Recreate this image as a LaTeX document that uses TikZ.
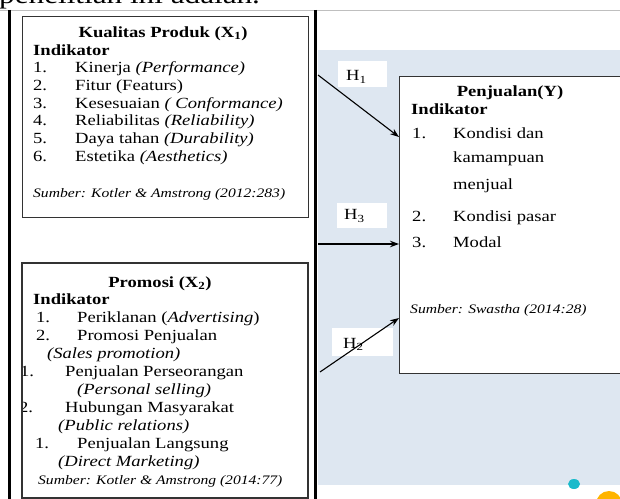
\documentclass[tikz,border=0pt]{standalone}
\usepackage{fontspec}
\setmainfont{Liberation Serif}[FakeStretch=1.2]
\usetikzlibrary{arrows.meta}
\definecolor{bgblue}{HTML}{DEE7F1}
\definecolor{dotcyan}{HTML}{19BACB}
\definecolor{dotorange}{HTML}{FFB400}
\begin{document}
\begin{tikzpicture}[x=1bp,y=-1bp,
  txt/.style={inner sep=0pt, anchor=base west, font=\fontsize{15.5bp}{18bp}\selectfont},
  src/.style={inner sep=0pt, anchor=base west, font=\fontsize{13bp}{15bp}\selectfont\itshape},
  ttl/.style={inner sep=0pt, anchor=base, font=\fontsize{15.5bp}{18bp}\selectfont\bfseries},
  hd/.style={inner sep=0pt, anchor=base west, font=\fontsize{15.5bp}{18bp}\selectfont\bfseries},
  panel/.style={draw=black!80, line width=1.2bp, fill=white, anchor=north west, inner sep=0pt},
  hlab/.style={fill=white, draw=none, anchor=north west, inner sep=0pt},
  conn/.style={-{Stealth[length=9bp,width=6.5bp]}, line width=1.1bp},
  wall/.style={line width=3bp}]
\useasboundingbox (0,0) rectangle (620,499);
% page background pieces
\fill[bgblue] (318,50) rectangle (620,485);
\draw[black!25, line width=0.8bp] (0,10) -- (620,10);
\begin{scope}
\clip (0,0) rectangle (620,10);
\node[inner sep=0pt, anchor=base west, font=\fontsize{26bp}{28bp}\selectfont] (toptext) at (-1,4) {penelitian ini adalah.};
\end{scope}
\draw[wall] (9,10) -- (9,499);
\draw[wall] (315,10) -- (315,499);
\fill[dotcyan] (574,484) ellipse [x radius=6, y radius=5];
\fill[dotorange] (609,504) circle [radius=13];

% Box X1
\node[panel, minimum width=286bp, minimum height=201bp] (kp) at (22,16) {};
\node[ttl] (kpt) at (163,37.5) {Kualitas Produk (X\textsubscript{1})};
\node[hd] (kpi) at (33,55.2) {Indikator};
\node[txt] (kn1) at (33,72.9) {1.};   \node[txt] (kk1) at (75,72.9) {Kinerja \textit{(Performance)}};
\node[txt] (kn2) at (33,90.6) {2.};   \node[txt] (kk2) at (75,90.6) {Fitur (Featurs)};
\node[txt] (kn3) at (33,108.3) {3.};  \node[txt] (kk3) at (75,108.3) {Kesesuaian \textit{( Conformance)}};
\node[txt] (kn4) at (33,126) {4.};    \node[txt] (kk4) at (75,126) {Reliabilitas \textit{(Reliability)}};
\node[txt] (kn5) at (33,143.7) {5.};  \node[txt] (kk5) at (75,143.7) {Daya tahan \textit{(Durability)}};
\node[txt] (kn6) at (33,161.4) {6.};  \node[txt] (kk6) at (75,161.4) {Estetika \textit{(Aesthetics)}};
\node[src] (ksrc) at (33,197.5) {Sumber: Kotler \& Amstrong (2012:283)};

% Box X2
\node[panel, minimum width=285bp, minimum height=234bp] (pr) at (22,263) {};
\begin{scope}
\clip (22,263) rectangle (307,497);
\node[ttl] (prt) at (160,287) {Promosi (X\textsubscript{2})};
\node[hd] (pri) at (33,304.9) {Indikator};
\node[txt] (pn1) at (36,322.8) {1.};  \node[txt] (pp1) at (77,322.8) {Periklanan (\textit{Advertising})};
\node[txt] (pn2) at (36,340.7) {2.};  \node[txt] (pp2) at (77,340.7) {Promosi Penjualan};
\node[txt] (pp2b) at (47,358.6) {\textit{(Sales promotion)}};
\node[txt] (pn3) at (20,376.5) {1.};  \node[txt] (pp3) at (65,376.5) {Penjualan Perseorangan};
\node[txt] (pp3b) at (77,394.4) {\textit{(Personal selling)}};
\node[txt] (pn4) at (19,412.3) {2.};  \node[txt] (pp4) at (65,412.3) {Hubungan Masyarakat};
\node[txt] (pp4b) at (58,430.2) {\textit{(Public relations)}};
\node[txt] (pn5) at (35,448.1) {1.};  \node[txt] (pp5) at (77,448.1) {Penjualan Langsung};
\node[txt] (pp5b) at (58,466) {\textit{(Direct Marketing)}};
\node[src] (psrc) at (38,484) {Sumber: Kotler \& Amstrong (2014:77)};
\end{scope}
\draw[draw=black!80, line width=1.2bp] (pr.north west) rectangle (pr.south east);

% Box Y
\node[panel, minimum width=230bp, minimum height=297bp] (pj) at (399,76) {};
\node[ttl] (pjt) at (510,97) {Penjualan(Y)};
\node[hd] (pji) at (411,115) {Indikator};
\node[txt] (yn1) at (412,139) {1.};  \node[txt] (yy1) at (453,139) {Kondisi dan};
\node[txt] (yy1b) at (453,163) {kamampuan};
\node[txt] (yy1c) at (453,190) {menjual};
\node[txt] (yn2) at (412,222) {2.};  \node[txt] (yy2) at (453,222) {Kondisi pasar};
\node[txt] (yn3) at (412,248) {3.};  \node[txt] (yy3) at (453,248) {Modal};
\node[src] (ysrc) at (410,313.5) {Sumber: Swastha (2014:28)};

% hypothesis labels
\node[hlab, minimum width=49bp, minimum height=26bp] (h1) at (338,61) {};
\node[txt] (h1t) at (346,81) {H\textsubscript{1}};
\node[hlab, minimum width=50bp, minimum height=25bp] (h3) at (337,203) {};
\node[txt] (h3t) at (344,220) {H\textsubscript{3}};
\node[hlab, minimum width=61bp, minimum height=28bp] (h2) at (332,328) {};
\node[txt] (h2t) at (343,348) {H\textsubscript{2}};

% connectors
\coordinate (h1s) at (318,75);
\coordinate (h1e) at (399,137);
\coordinate (h3s) at (318,244);
\coordinate (h3e) at (399,244);
\coordinate (h2s) at (320,372);
\coordinate (h2e) at (399,318);
\draw[conn] (h1s) -- (h1e);
\draw[conn] (h3s) -- (h3e);
\draw[conn] (h2s) -- (h2e);
\end{tikzpicture}
\end{document}
